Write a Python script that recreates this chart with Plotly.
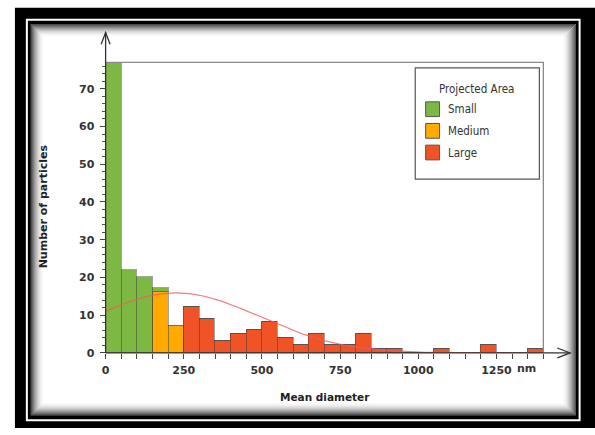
import numpy as np
import plotly.graph_objects as go

# Histogram of mean particle diameter (nm), 50 nm bins, split by projected-area class
bin_start = [0, 50, 100, 150, 200, 250, 300, 350, 400, 450, 500, 550, 600, 650,
             700, 750, 800, 850, 900, 950, 1000, 1050, 1100, 1150, 1200, 1250, 1300, 1350]
bin_width = 50
small_counts = [77, 22, 20, 1, 0, 0, 0, 0, 0, 0, 0, 0, 0, 0,
                0, 0, 0, 0, 0, 0, 0, 0, 0, 0, 0, 0, 0, 0]
medium_counts = [0, 0, 0, 16, 7, 0, 0, 0, 0, 0, 0, 0, 0, 0,
                 0, 0, 0, 0, 0, 0, 0, 0, 0, 0, 0, 0, 0, 0]
large_counts = [0, 0, 0, 0, 0, 12, 9, 3, 5, 6, 8, 4, 2, 5,
                2, 2, 5, 1, 1, 0, 0, 1, 0, 0, 2, 0, 0, 1]

x_tick_labels = {0: "0", 250: "250", 500: "500", 750: "750", 1000: "1000", 1250: "1250"}
class_names = ["Small", "Medium", "Large"]
class_colors = ["#7db843", "#ffaa00", "#f05326"]

W, H = 595, 435
FONT = "DejaVu Sans, Verdana, sans-serif"
NARROW = "DejaVu Sans Condensed, Liberation Sans Narrow, Roboto Condensed, sans-serif"


def px(x):
    return x / W


def py(y):
    return 1 - y / H


# plot area in pixels
PX0, PX1 = 102.3, 543.0
PY0, PY1 = 63.3, 358.7

centers = [s + bin_width / 2 for s in bin_start]
totals = np.array(small_counts) + np.array(medium_counts) + np.array(large_counts)

# normal curve fitted to the binned data, scaled to counts per bin
n_total = totals.sum()
mu = float((totals * np.array(centers)).sum() / n_total)
sd = float(np.sqrt((totals * (np.array(centers) - mu) ** 2).sum() / n_total))
xs = np.linspace(0, 1400, 400)
ys = n_total * bin_width / (sd * np.sqrt(2 * np.pi)) * np.exp(-(xs - mu) ** 2 / (2 * sd ** 2))

fig = go.Figure()
bar_line = dict(color="rgba(50,50,50,0.45)", width=1)
# stacked bottom-up: Large, Medium, Small
for counts, name, col in [(large_counts, "Large", class_colors[2]),
                          (medium_counts, "Medium", class_colors[1]),
                          (small_counts, "Small", class_colors[0])]:
    fig.add_trace(go.Bar(x=centers, y=counts, width=bin_width, name=name,
                         marker=dict(color=col, line=bar_line), showlegend=False))

fig.add_trace(go.Scatter(x=xs, y=ys, mode="lines", showlegend=False,
                         line=dict(color="rgba(240,90,90,0.8)", width=1.2)))

shapes = []
# outer frame
shapes.append(dict(type="rect", xref="paper", yref="paper", layer="below",
                   x0=px(11), x1=px(595), y0=py(435), y1=py(8),
                   fillcolor="black", line=dict(width=0)))
shapes.append(dict(type="rect", xref="paper", yref="paper", layer="below",
                   x0=px(23), x1=px(579.5), y0=py(427), y1=py(20),
                   fillcolor="rgba(0,0,0,0)", line=dict(color="white", width=2)))
shapes.append(dict(type="rect", xref="paper", yref="paper", layer="below",
                   x0=px(27), x1=px(575.5), y0=py(422), y1=py(24.5),
                   fillcolor="white", line=dict(width=0)))
# inner shading along the frame edge
steps = 14
for i in range(steps):
    a = 0.78 * (1 - i / steps) ** 2.2
    d = i + 0.5
    shapes.append(dict(type="rect", xref="paper", yref="paper", layer="below",
                       x0=px(27 + d), x1=px(575.5 - d), y0=py(422 - d), y1=py(24.5 + d),
                       fillcolor="rgba(0,0,0,0)",
                       line=dict(color=f"rgba(0,0,0,{a:.3f})", width=1)))

# plot border (top and right)
shapes.append(dict(type="path", xref="paper", yref="paper", layer="above",
                   path=f"M{px(PX0)},{py(PY0)} L{px(PX1)},{py(PY0)} L{px(PX1)},{py(PY1)}",
                   line=dict(color="#8a8a8a", width=1.3)))
# axes with open arrowheads
axis_col = "#333333"
shapes.append(dict(type="path", xref="paper", yref="paper", layer="above",
                   path=f"M{px(PX0)},{py(PY1)} L{px(PX0)},{py(33)}",
                   line=dict(color=axis_col, width=1.3)))
shapes.append(dict(type="path", xref="paper", yref="paper", layer="above",
                   path=f"M{px(97.8)},{py(45)} L{px(PX0)},{py(33)} L{px(106.8)},{py(45)}",
                   line=dict(color=axis_col, width=1.3)))
shapes.append(dict(type="path", xref="paper", yref="paper", layer="above",
                   path=f"M{px(PX0)},{py(PY1)} L{px(570)},{py(PY1)}",
                   line=dict(color=axis_col, width=1.3)))
shapes.append(dict(type="path", xref="paper", yref="paper", layer="above",
                   path=f"M{px(557)},{py(PY1 - 5)} L{px(570)},{py(PY1)} L{px(557)},{py(PY1 + 5)}",
                   line=dict(color=axis_col, width=1.3)))

# legend box
LX0, LX1, LY0, LY1 = 414, 539, 69, 182
shapes.append(dict(type="rect", xref="paper", yref="paper", layer="above",
                   x0=px(LX0), x1=px(LX1), y0=py(LY1), y1=py(LY0),
                   fillcolor="white", line=dict(color="#555555", width=1.2)))
annotations = [dict(xref="paper", yref="paper", x=px(476), y=py(90), text="Projected Area",
                    showarrow=False, xanchor="center", yanchor="middle",
                    font=dict(family=NARROW, size=11.5, color="#333333"))]
for k, (name, col) in enumerate(zip(class_names, class_colors)):
    cy = 111 + 22 * k
    shapes.append(dict(type="rect", xref="paper", yref="paper", layer="above",
                       x0=px(424.5), x1=px(438.5), y0=py(cy + 7.5), y1=py(cy - 7.5),
                       fillcolor=col, line=dict(color="#555555", width=1)))
    annotations.append(dict(xref="paper", yref="paper", x=px(445), y=py(cy), text=name,
                            showarrow=False, xanchor="left", yanchor="middle",
                            font=dict(family=NARROW, size=11.5, color="#333333")))

# axis titles and unit
annotations.append(dict(xref="paper", yref="paper", x=px(323), y=py(404), text="Mean diameter",
                        showarrow=False, xanchor="center", yanchor="middle",
                        font=dict(family=FONT, size=10.5, color="#222222", weight="bold")))
annotations.append(dict(xref="paper", yref="paper", x=px(40), y=py(210), text="Number of particles",
                        showarrow=False, textangle=-90, xanchor="center", yanchor="middle",
                        font=dict(family=FONT, size=11, color="#222222", weight="bold")))
annotations.append(dict(xref="x", yref="paper", x=1250, y=py(375), text="nm",
                        showarrow=False, xanchor="left", yanchor="middle", xshift=19,
                        font=dict(family=FONT, size=11, color="#333333", weight="bold")))

tick_positions = bin_start + [1400]
tick_text = [x_tick_labels.get(v, "") for v in tick_positions]

fig.update_layout(
    width=W, height=H,
    margin=dict(l=0, r=0, t=0, b=0),
    paper_bgcolor="white", plot_bgcolor="rgba(0,0,0,0)",
    barmode="stack", bargap=0, showlegend=False,
    shapes=shapes, annotations=annotations,
    xaxis=dict(domain=[px(PX0), px(PX1)], range=[0, 1400], showgrid=False, zeroline=False,
               showline=False, tickmode="array", tickvals=tick_positions, ticktext=tick_text,
               ticks="outside", ticklen=5, tickwidth=1, tickcolor="#444444",
               ticklabelstandoff=2,
               tickfont=dict(family=FONT, size=11, color="#333333", weight="bold")),
    yaxis=dict(domain=[py(PY1), py(PY0)], range=[0, 77], showgrid=False, zeroline=False,
               showline=False, tick0=0, dtick=10, ticks="outside", ticklen=5, tickwidth=1,
               tickcolor="#444444", ticklabelstandoff=3,
               minor=dict(dtick=2, ticks="outside", ticklen=3, tickcolor="#555555", tickwidth=1),
               tickfont=dict(family=FONT, size=11, color="#333333", weight="bold")),
)

fig.write_html("out.html", config={"displayModeBar": False})
